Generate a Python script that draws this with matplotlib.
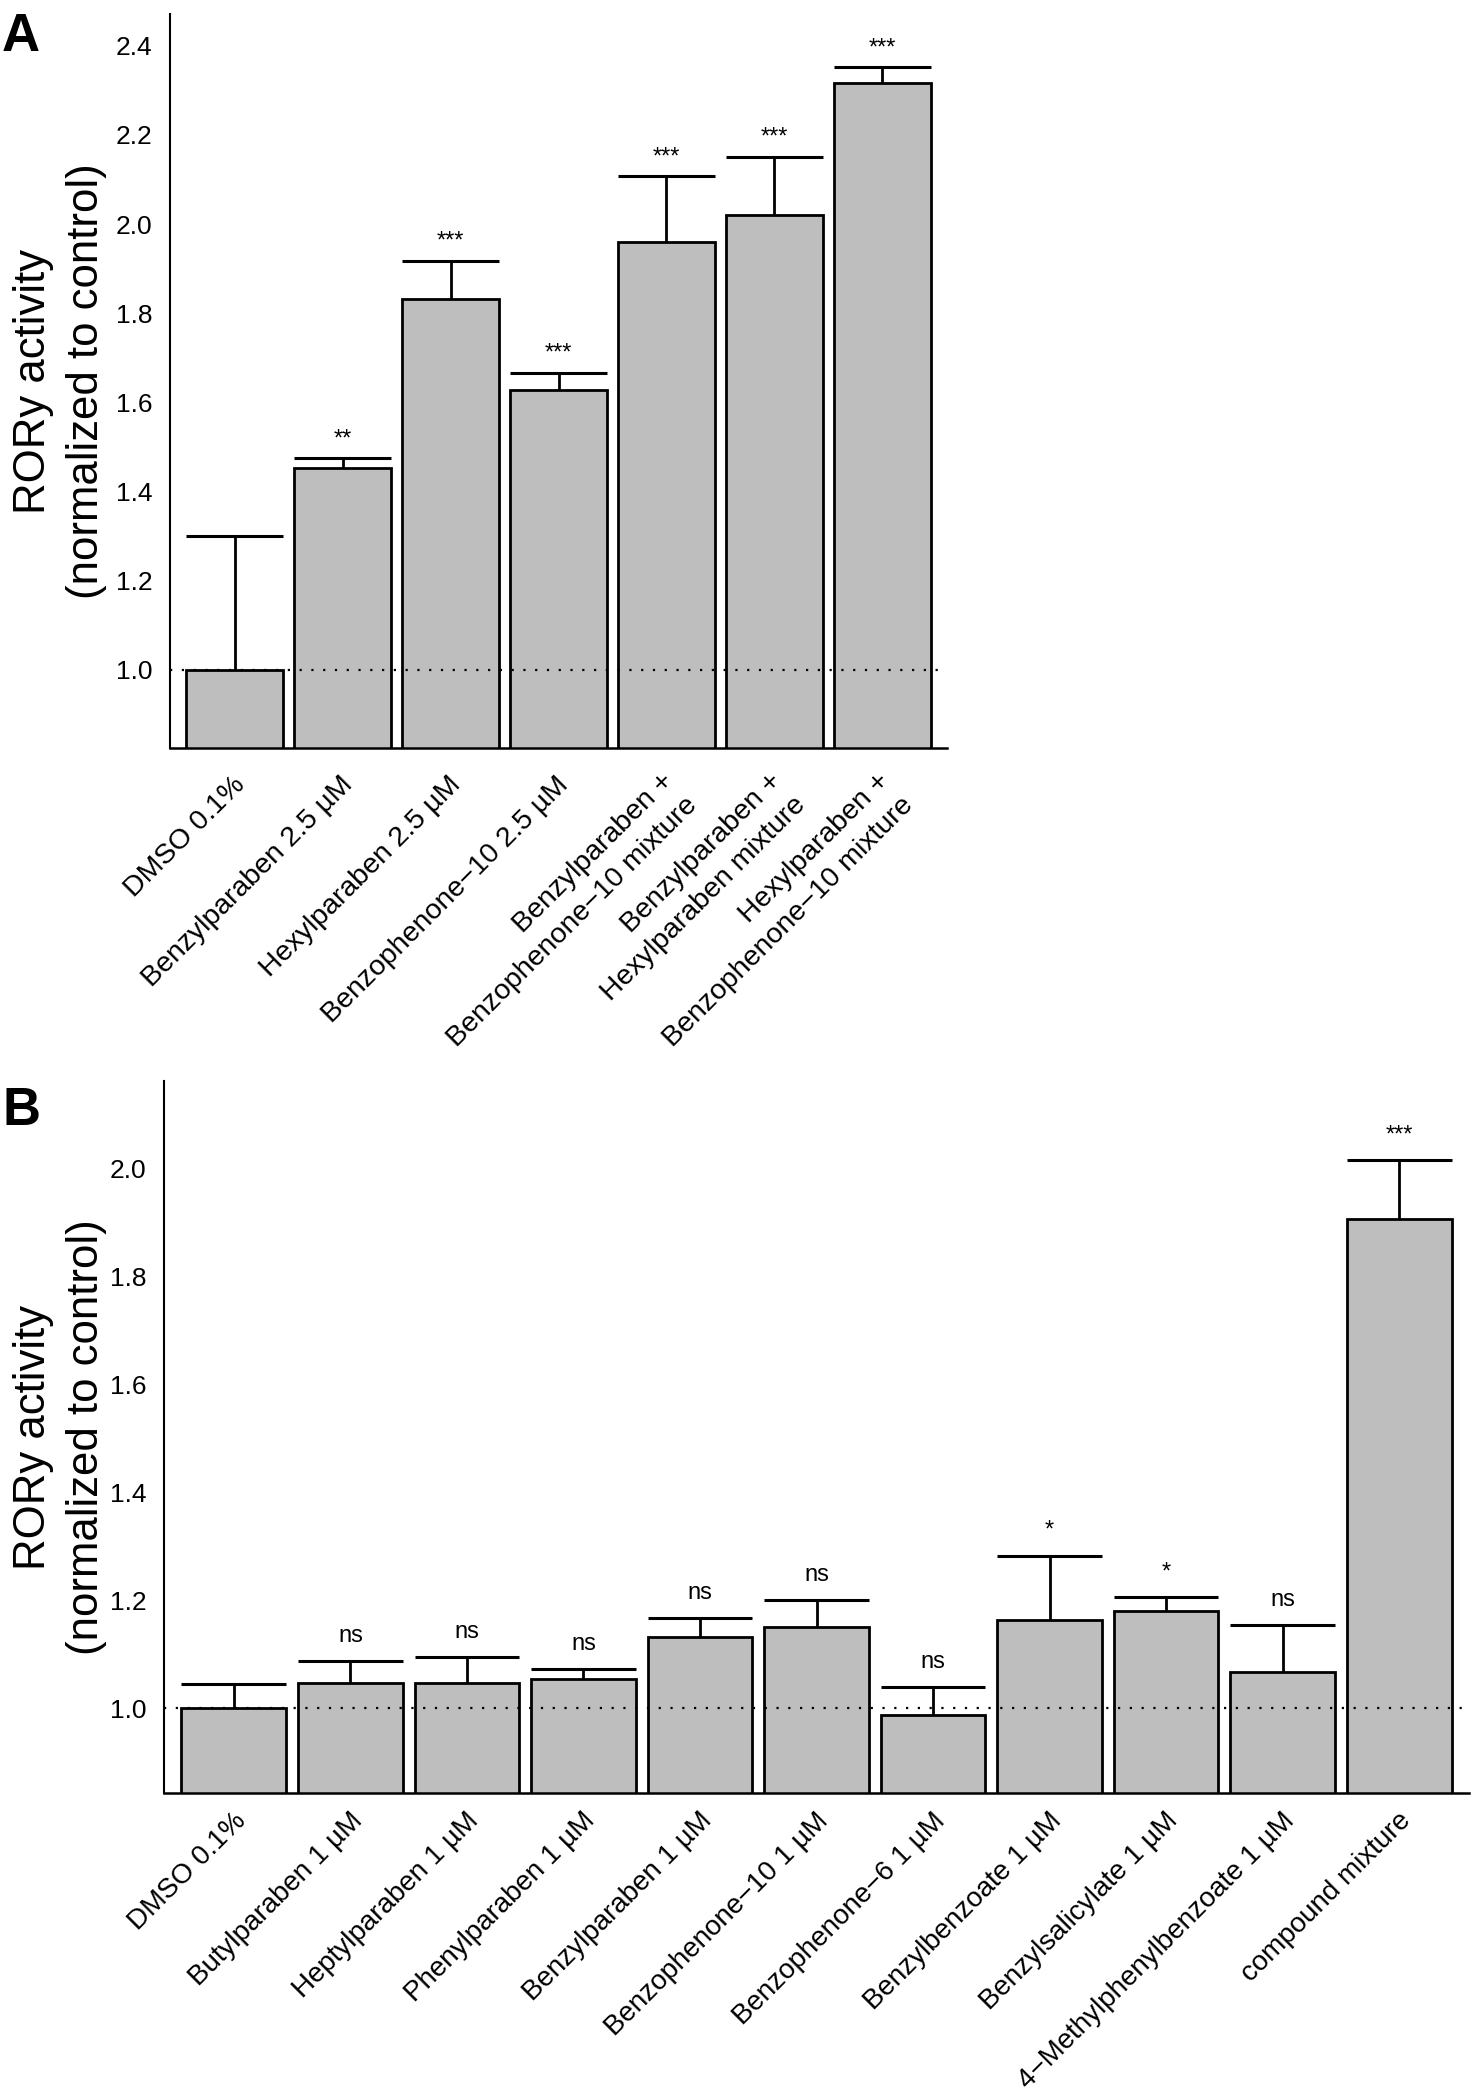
import matplotlib
matplotlib.use("Agg")
import matplotlib.pyplot as plt
from matplotlib.transforms import ScaledTranslation, blended_transform_factory
import numpy as np

plt.rcParams['font.family'] = ['Liberation Sans', 'DejaVu Sans']

# ---------------- data ----------------
labels_A = ["DMSO 0.1%",
            "Benzylparaben 2.5 µM",
            "Hexylparaben 2.5 µM",
            "Benzophenone\u221210 2.5 µM",
            "Benzylparaben +\nBenzophenone\u221210 mixture",
            "Benzylparaben +\nHexylparaben mixture",
            "Hexylparaben +\nBenzophenone\u221210 mixture"]
means_A = [1.00, 1.453, 1.832, 1.627, 1.959, 2.021, 2.317]
sem_A = [0.300, 0.022, 0.086, 0.040, 0.148, 0.130, 0.035]
sig_A = ["", "**", "***", "***", "***", "***", "***"]
yticks_A = [1.0, 1.2, 1.4, 1.6, 1.8, 2.0, 2.2, 2.4]

labels_B = ["DMSO 0.1%",
            "Butylparaben 1 µM",
            "Heptylparaben 1 µM",
            "Phenylparaben 1 µM",
            "Benzylparaben 1 µM",
            "Benzophenone\u221210 1 µM",
            "Benzophenone\u22126 1 µM",
            "Benzylbenzoate 1 µM",
            "Benzylsalicylate 1 µM",
            "4\u2212Methylphenylbenzoate 1 µM",
            "compound mixture"]
means_B = [1.000, 1.047, 1.047, 1.054, 1.132, 1.150, 0.988, 1.163, 1.180, 1.067, 1.907]
sem_B = [0.045, 0.040, 0.049, 0.018, 0.036, 0.050, 0.052, 0.120, 0.026, 0.088, 0.109]
sig_B = ["", "ns", "ns", "ns", "ns", "ns", "ns", "*", "*", "ns", "***"]
yticks_B = [1.0, 1.2, 1.4, 1.6, 1.8, 2.0]

ylabel = "RORy activity\n(normalized to control)"

# ---------------- figure ----------------
DPI = 100
W, H = 1472, 2100
fig = plt.figure(figsize=(W / DPI, H / DPI), dpi=DPI)


def px_rect(x, y, w, h):
    return [x / W, 1 - (y + h) / H, w / W, h / H]


axA = fig.add_axes(px_rect(170, 14, 777, 734))
axB = fig.add_axes(px_rect(164, 1081, 1305, 712))


def draw(ax, labels, means, sem, sig, ylim, yticks, sig_off, lab_off,
         lab_off_multi, lab_size):
    n = len(means)
    x = np.arange(n)
    w = 0.9
    means = np.asarray(means)
    tops = means + np.asarray(sem)
    ax.set_xlim(-0.6, n - 1 + 0.6)
    ax.set_ylim(*ylim)
    ax.bar(x, means, width=w, color='#bebebe', edgecolor='black',
           linewidth=2.0, zorder=2)
    ax.vlines(x, means, tops, color='black', lw=2.0, zorder=3)
    ax.hlines(tops, x - w / 2, x + w / 2, color='black', lw=2.2, zorder=3)
    ax.axhline(1.0, color='black', lw=1.6, linestyle=(0, (1, 4.3)), zorder=4)

    for s in ['top', 'right']:
        ax.spines[s].set_visible(False)
    ax.spines['left'].set_linewidth(1.5)
    ax.spines['bottom'].set_linewidth(1.8)
    ax.spines['left'].set_zorder(5)
    ax.spines['bottom'].set_zorder(5)

    ax.set_yticks(yticks)
    ax.set_yticklabels([f"{t:.1f}" for t in yticks])
    ax.tick_params(axis='y', length=0, pad=12.5, labelsize=19)
    ax.set_xticks([])

    for i, lab in enumerate(labels):
        dx, dy = lab_off_multi if '\n' in lab else lab_off
        tr = ax.get_xaxis_transform() + ScaledTranslation(dx / DPI, -dy / DPI, fig.dpi_scale_trans)
        ax.text(i, 0, lab, transform=tr, rotation=45, rotation_mode='anchor',
                ha='right', va='center', fontsize=lab_size, linespacing=1.4,
                multialignment='right')

    for i, s in enumerate(sig):
        if s:
            ax.annotate(s, (i, tops[i]), xytext=(0, sig_off),
                        textcoords='offset pixels', ha='center',
                        va='baseline', fontsize=17, zorder=6)

    ax.set_ylabel(ylabel, fontsize=31.5, linespacing=1.4, va='center', ha='center')
    ax.yaxis.set_label_coords(60 / W, 0.5,
                              transform=blended_transform_factory(fig.transFigure, ax.transAxes))


draw(axA, labels_A, means_A, sem_A, sig_A, (0.825, 2.471), yticks_A, 13,
     (6, 33), (15, 41), 20.5)
draw(axB, labels_B, means_B, sem_B, sig_B, (0.843, 2.163), yticks_B, 19,
     (8, 24), (15, 41), 20)

fig.text(2 / W, 1 - 51 / H, "A", fontsize=38, fontweight='bold', ha='left', va='baseline')
fig.text(2 / W, 1 - 1125 / H, "B", fontsize=38, fontweight='bold', ha='left', va='baseline')

fig.savefig("out.png", dpi=DPI, facecolor='white')
